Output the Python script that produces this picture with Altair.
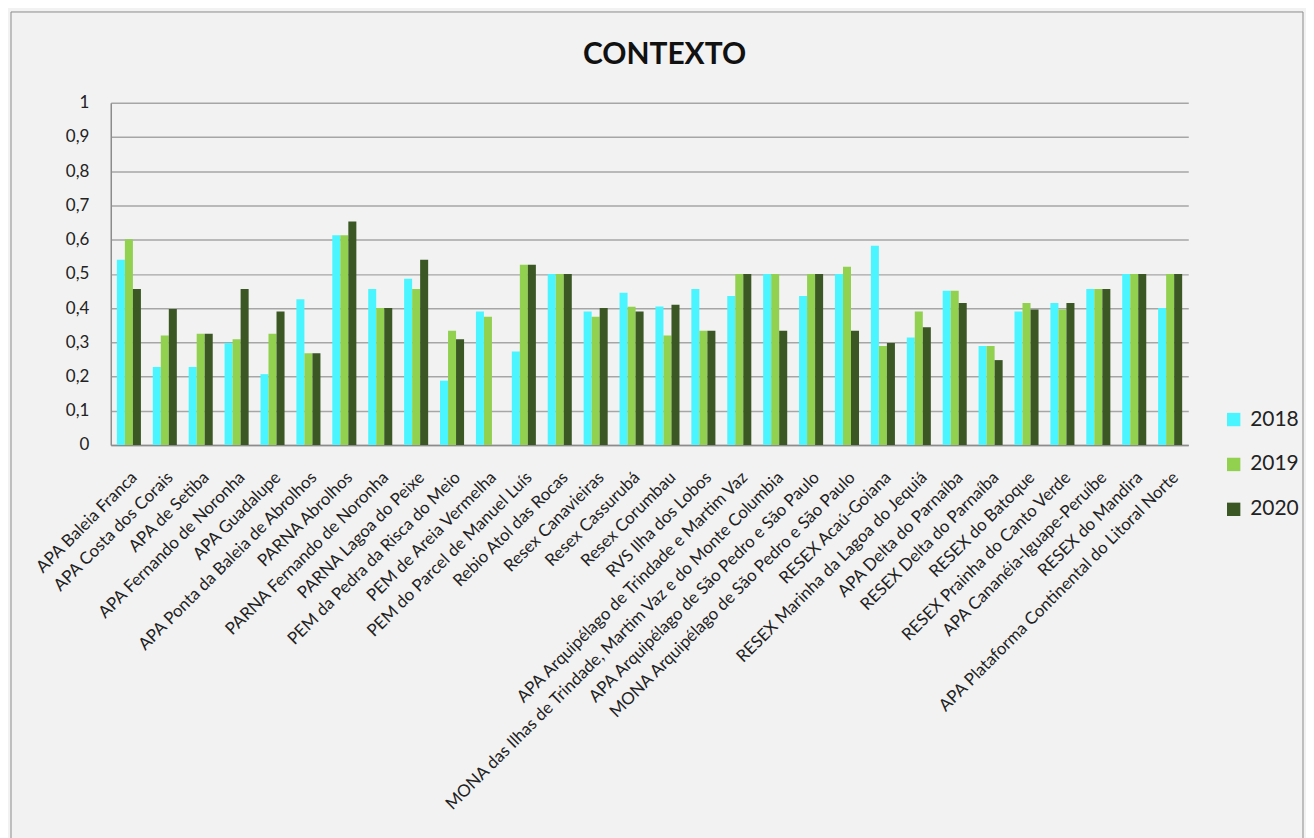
import altair as alt
import pandas as pd

categories = [
    "APA Baleia Franca", "APA Costa dos Corais", "APA de Setiba", "APA Fernando de Noronha",
    "APA Guadalupe", "APA Ponta da Baleia de Abrolhos", "PARNA Abrolhos",
    "PARNA Fernando de Noronha", "PARNA Lagoa do Peixe", "PEM da Pedra da Risca do Meio",
    "PEM de Areia Vermelha", "PEM do Parcel de Manuel Luís", "Rebio Atol das Rocas",
    "Resex Canavieiras", "Resex Cassurubá", "Resex Corumbau", "RVS Ilha dos Lobos",
    "APA Arquipélago de Trindade e Martim Vaz",
    "MONA das Ilhas de Trindade, Martim Vaz e do Monte Columbia",
    "APA Arquipélago de São Pedro e São Paulo", "MONA Arquipélago de São Pedro e São Paulo",
    "RESEX Acaú-Goiana", "RESEX  Marinha da Lagoa do Jequiá", "APA Delta do Parnaíba",
    "RESEX Delta do Parnaíba", "RESEX do Batoque", "RESEX Prainha do Canto Verde",
    "APA Cananéia-Iguape-Peruíbe", "RESEX do Mandira",
    "APA Plataforma Continental do Litoral Norte",
]

values_2018 = [0.541, 0.228, 0.228, 0.298, 0.207, 0.426, 0.613, 0.456, 0.486, 0.188,
               0.390, 0.273, 0.500, 0.390, 0.445, 0.405, 0.456, 0.435, 0.500, 0.435,
               0.500, 0.582, 0.314, 0.451, 0.289, 0.390, 0.415, 0.456, 0.500, 0.400]
values_2019 = [0.601, 0.320, 0.325, 0.309, 0.325, 0.268, 0.613, 0.400, 0.456, 0.334,
               0.375, 0.527, 0.500, 0.375, 0.404, 0.320, 0.334, 0.500, 0.500, 0.500,
               0.521, 0.289, 0.390, 0.451, 0.289, 0.415, 0.396, 0.456, 0.500, 0.500]
values_2020 = [0.456, 0.397, 0.325, 0.456, 0.390, 0.268, 0.653, 0.400, 0.541, 0.309,
               None, 0.527, 0.500, 0.400, 0.390, 0.410, 0.334, 0.500, 0.334, 0.500,
               0.334, 0.298, 0.344, 0.415, 0.248, 0.396, 0.415, 0.456, 0.500, 0.500]

years = ["2018", "2019", "2020"]
colors = ["#4BF5FF", "#92D050", "#3A5724"]
y_ticks = [0, 0.1, 0.2, 0.3, 0.4, 0.5, 0.6, 0.7, 0.8, 0.9, 1]
title_text = "CONTEXTO"

rows = []
for yr, vals in zip(years, [values_2018, values_2019, values_2020]):
    for c, v in zip(categories, vals):
        rows.append({"categoria": c, "ano": yr, "valor": v})
df = pd.DataFrame(rows)

FONT = "Lato"

bars = alt.Chart(df).mark_bar().encode(
    x=alt.X("categoria:N", sort=categories, title=None,
            scale=alt.Scale(paddingInner=0.33, paddingOuter=0.17),
            axis=alt.Axis(labelAngle=-45, labelFontSize=17, labelLimit=700,
                          labelColor="#222", ticks=False, domainColor="#8c8c8c",
                          domainWidth=1.5, labelPadding=24, labelFont=FONT)),
    xOffset=alt.XOffset("ano:N", sort=years),
    y=alt.Y("valor:Q", title=None, scale=alt.Scale(domain=[0, 1], nice=False),
            axis=alt.Axis(values=y_ticks, labelFontSize=17, labelColor="#222",
                          labelExpr="datum.value == 0 ? '0' : datum.value == 1 ? '1' : replace(format(datum.value, '.1f'), '.', ',')",
                          ticks=False, labelPadding=22, gridColor="#a6a6a6",
                          gridWidth=1.5, domainColor="#8c8c8c", domainWidth=1.5,
                          labelFont=FONT)),
    color=alt.Color("ano:N", sort=years, title=None,
                    scale=alt.Scale(domain=years, range=colors),
                    legend=alt.Legend(orient="none", legendX=1115, legendY=307,
                                      symbolType="square", symbolSize=180,
                                      symbolStrokeWidth=0, labelFontSize=21,
                                      labelFont=FONT, labelColor="#222",
                                      rowPadding=23, labelOffset=6)),
)

frame = alt.Chart(alt.Data(values=[{}])).mark_rect(
    fill=None, stroke="#8c8c8c", strokeWidth=1, clip=False
).encode(x=alt.value(-100), x2=alt.value(1195), y=alt.value(-91), y2=alt.value(760))

title = alt.Chart(alt.Data(values=[{"t": title_text}])).mark_text(
    font=FONT, fontSize=30, fontWeight="bold", color="#111",
    align="center", baseline="alphabetic", clip=False
).encode(text="t:N", x=alt.value(555), y=alt.value(-39))

chart = alt.layer(frame, bars, title).properties(
    width=1080, height=343,
    padding=2,
    background="#f2f2f2",
).configure_view(stroke=None)

chart.save("out.html", embed_options={"renderer": "svg", "actions": False})
